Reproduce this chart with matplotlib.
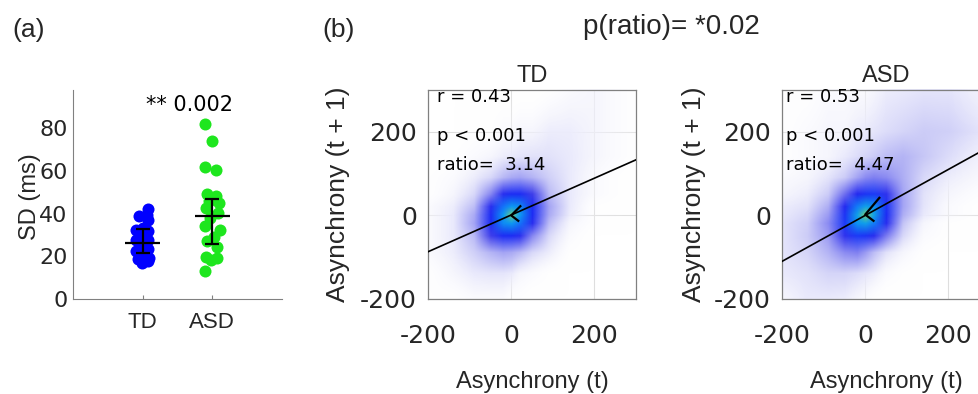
import numpy as np
import matplotlib
matplotlib.use("Agg")
import matplotlib.pyplot as plt
from matplotlib.colors import LinearSegmentedColormap
from matplotlib.image import NonUniformImage

plt.rcParams['axes.unicode_minus'] = False

# ---------------- data ----------------
groups = ['TD', 'ASD']
td_sd = [42.2, 39.5, 39.1, 36.9, 33.3, 32.5, 31.7, 29.6, 27.5, 27.5,
         25.4, 23.4, 22.7, 21.2, 19.1, 18.7, 16.8, 17.6]
td_jitter = [0.08, 0.06, -0.05, 0.08, 0.0, -0.09, 0.08, -0.04, -0.09, 0.07,
             -0.01, 0.08, -0.09, 0.02, 0.09, -0.06, -0.01, 0.08]
asd_sd = [81.9, 74.0, 61.8, 60.7, 49.4, 48.2, 45.8, 45.0, 42.7, 40.3,
          38.0, 34.0, 32.5, 29.3, 27.0, 24.6, 19.9, 19.1, 18.4, 12.9]
asd_jitter = [-0.10, 0.0, -0.10, 0.05, -0.07, 0.05, -0.05, 0.10, -0.09, 0.08,
              -0.03, -0.11, 0.11, 0.02, -0.07, 0.06, -0.09, 0.07, -0.02, -0.10]
group_mean = [26.3, 39.1]
err_low = [21.8, 25.9]
err_high = [32.8, 46.9]
group_p_text = '** 0.002'
ratio_p_text = 'p(ratio)= *0.02'

r_vals = [0.43, 0.53]
ratio_vals = [3.14, 4.47]
p_corr_text = 'p < 0.001'
fit_slope = [0.44, 0.55]
fit_intercept = [1.0, 0.0]

# estimated point density (0..1); rows top (y=300) to bottom
grid_x = [-200, -140, -90, -50, -20, 0, 20, 50, 90, 140, 200, 300]
grid_y = [300, 200, 140, 90, 50, 20, 0, -20, -50, -90, -140, -200]
density_td = [
    [0.00, 0.00, 0.00, 0.00, 0.00, 0.00, 0.00, 0.00, 0.01, 0.02, 0.03, 0.01],
    [0.00, 0.00, 0.01, 0.01, 0.02, 0.02, 0.03, 0.03, 0.04, 0.04, 0.03, 0.01],
    [0.00, 0.01, 0.02, 0.03, 0.04, 0.05, 0.06, 0.07, 0.07, 0.05, 0.03, 0.01],
    [0.01, 0.02, 0.04, 0.09, 0.16, 0.19, 0.20, 0.17, 0.11, 0.05, 0.02, 0.00],
    [0.01, 0.03, 0.09, 0.26, 0.46, 0.52, 0.52, 0.38, 0.16, 0.05, 0.02, 0.00],
    [0.02, 0.04, 0.15, 0.46, 0.70, 0.78, 0.75, 0.52, 0.20, 0.05, 0.01, 0.00],
    [0.02, 0.05, 0.19, 0.52, 0.78, 0.95, 0.78, 0.52, 0.19, 0.04, 0.01, 0.00],
    [0.02, 0.05, 0.20, 0.52, 0.75, 0.78, 0.70, 0.46, 0.15, 0.03, 0.01, 0.00],
    [0.02, 0.05, 0.16, 0.38, 0.52, 0.52, 0.46, 0.26, 0.09, 0.02, 0.00, 0.00],
    [0.02, 0.04, 0.11, 0.17, 0.20, 0.19, 0.16, 0.09, 0.04, 0.01, 0.00, 0.00],
    [0.01, 0.03, 0.05, 0.06, 0.06, 0.05, 0.03, 0.02, 0.01, 0.00, 0.00, 0.00],
    [0.01, 0.01, 0.02, 0.02, 0.02, 0.01, 0.01, 0.00, 0.00, 0.00, 0.00, 0.00],
]
density_asd = [
    [0.01, 0.01, 0.02, 0.02, 0.02, 0.02, 0.03, 0.04, 0.05, 0.06, 0.06, 0.03],
    [0.01, 0.02, 0.03, 0.03, 0.04, 0.05, 0.06, 0.08, 0.10, 0.12, 0.11, 0.05],
    [0.01, 0.02, 0.03, 0.05, 0.08, 0.10, 0.12, 0.15, 0.17, 0.13, 0.08, 0.03],
    [0.02, 0.03, 0.06, 0.12, 0.20, 0.25, 0.27, 0.25, 0.18, 0.09, 0.04, 0.02],
    [0.03, 0.04, 0.12, 0.30, 0.48, 0.54, 0.56, 0.44, 0.20, 0.07, 0.03, 0.01],
    [0.04, 0.07, 0.18, 0.48, 0.72, 0.80, 0.77, 0.54, 0.20, 0.06, 0.02, 0.00],
    [0.05, 0.09, 0.22, 0.54, 0.80, 0.96, 0.80, 0.52, 0.18, 0.05, 0.02, 0.00],
    [0.06, 0.11, 0.25, 0.56, 0.77, 0.80, 0.72, 0.46, 0.14, 0.03, 0.01, 0.00],
    [0.06, 0.12, 0.22, 0.44, 0.56, 0.54, 0.46, 0.28, 0.09, 0.02, 0.01, 0.00],
    [0.06, 0.10, 0.17, 0.25, 0.27, 0.22, 0.15, 0.07, 0.03, 0.01, 0.00, 0.00],
    [0.05, 0.07, 0.10, 0.10, 0.08, 0.06, 0.04, 0.02, 0.01, 0.00, 0.00, 0.00],
    [0.03, 0.05, 0.05, 0.04, 0.03, 0.02, 0.01, 0.00, 0.00, 0.00, 0.00, 0.00],
]
# "<" marks at the centre of each cloud (barb end, tip, barb end)
arrow_td_x = [22, 0, 17]
arrow_td_y = [22, 0, -13]
arrow_asd_x = [34, 0, 20]
arrow_asd_y = [42, 2, -13]

# ---------------- figure ----------------
W, H = 979, 394
fig = plt.figure(figsize=(W / 100, H / 100), dpi=100)

LAB = ['Liberation Sans', 'DejaVu Sans']
NUM = ['DejaVu Sans']
TXT = '#262626'
SPINE = '#808080'


def fx(px):
    return px / W


def fy(py):
    return 1 - py / H


# ---- panel (a) ----
ax_a = fig.add_axes([fx(73), fy(299), fx(209), 209 / H])
ax_a.scatter(np.array(td_jitter) + 1, td_sd, s=75, color='#0000ff', zorder=2, linewidths=0)
ax_a.scatter(np.array(asd_jitter) + 2, asd_sd, s=75, color='#1ee61e', zorder=2, linewidths=0)
xs = np.array([1, 2])
means = np.array(group_mean)
yerr = [means - np.array(err_low), np.array(err_high) - means]
ax_a.errorbar(xs, means, yerr=yerr, fmt='none', ecolor='black', elinewidth=1.6,
              capsize=5, capthick=1.6, zorder=3)
ax_a.hlines(means, xs - 0.25, xs + 0.25, color='black', lw=1.6, zorder=3)
ax_a.set_xlim(0, 3)
ax_a.set_ylim(0, 98)
ax_a.set_xticks([1, 2])
ax_a.set_xticklabels(groups, fontsize=16, family=LAB, color=TXT)
ax_a.set_yticks([0, 20, 40, 60, 80])
ax_a.set_yticklabels(['0', '20', '40', '60', '80'], fontsize=16, family=NUM, color=TXT)
ax_a.tick_params(axis='x', direction='in', length=3, pad=9, color=SPINE)
ax_a.tick_params(axis='y', direction='in', length=0, pad=4, color=SPINE)
for s in ['top', 'right']:
    ax_a.spines[s].set_visible(False)
for s in ['left', 'bottom']:
    ax_a.spines[s].set_color(SPINE)
ax_a.set_ylabel('SD (ms)', fontsize=17, family=LAB, color=TXT)
ax_a.yaxis.set_label_coords(-0.155, 0.49)
ax_a.text(1.67, 91, group_p_text, fontsize=15, family=NUM, color='black',
          ha='center', va='center')

# ---- panel (b) ----
cmap = LinearSegmentedColormap.from_list('dens', [
    (0.00, (1.00, 1.00, 1.00, 0.0)),
    (0.04, (0.93, 0.93, 0.99, 1.0)),
    (0.12, (0.80, 0.80, 0.97, 1.0)),
    (0.25, (0.55, 0.55, 0.95, 1.0)),
    (0.38, (0.25, 0.25, 0.92, 1.0)),
    (0.50, (0.12, 0.15, 0.95, 1.0)),
    (0.65, (0.10, 0.35, 1.00, 1.0)),
    (0.78, (0.05, 0.60, 0.95, 1.0)),
    (0.90, (0.15, 0.78, 0.75, 1.0)),
    (1.00, (0.65, 0.85, 0.30, 1.0)),
])

panels = [
    dict(left=428, name='TD', dens=density_td, ax_=arrow_td_x, ay_=arrow_td_y, tx=0.045, ylx=-0.375),
    dict(left=782, name='ASD', dens=density_asd, ax_=arrow_asd_x, ay_=arrow_asd_y, tx=0.02, ylx=-0.365),
]
gx = np.array(grid_x, dtype=float)
gy = np.array(grid_y, dtype=float)[::-1]
for i, p in enumerate(panels):
    ax = fig.add_axes([fx(p['left']), fy(299), fx(208), 209 / H])
    ax.set_axisbelow(True)
    ax.grid(True, color='#dedede', lw=0.8)
    im = NonUniformImage(ax, interpolation='bilinear', extent=(-200, 300, -200, 300), cmap=cmap)
    im.set_data(gx, gy, np.array(p['dens'])[::-1])
    im.set_clim(0, 1)
    im.set_zorder(1)
    ax.add_image(im)
    xl = np.array([-200, 300])
    ax.plot(xl, fit_slope[i] * xl + fit_intercept[i], color='black', lw=1.2, zorder=3)
    ax.plot(p['ax_'], p['ay_'], color='black', lw=1.6, zorder=4)
    ax.set_xlim(-200, 300)
    ax.set_ylim(-200, 300)
    ax.set_xticks([-200, 0, 200])
    ax.set_yticks([-200, 0, 200])
    ax.set_xticklabels(['-200', '0', '200'], fontsize=18, family=NUM, color=TXT)
    ax.set_yticklabels(['-200', '0', '200'], fontsize=18, family=NUM, color=TXT)
    ax.tick_params(axis='both', direction='in', length=0, color=SPINE)
    ax.tick_params(axis='x', pad=18)
    ax.tick_params(axis='y', pad=8)
    for s in ax.spines.values():
        s.set_color(SPINE)
        s.set_linewidth(0.9)
    ax.set_title(p['name'], fontsize=17, family=LAB, color=TXT, pad=6)
    ax.set_xlabel('Asynchrony (t)', fontsize=17, family=LAB, color=TXT)
    ax.xaxis.set_label_coords(0.5, -0.345)
    ax.set_ylabel('Asynchrony (t + 1)', fontsize=19, family=LAB, color=TXT)
    ax.yaxis.set_label_coords(p['ylx'], 0.5)
    for k, (t, yy) in enumerate([('r = %.2f' % r_vals[i], 0.965),
                                  (p_corr_text, 0.78),
                                  ('ratio=  %.2f' % ratio_vals[i], 0.64)]):
        ax.text(p['tx'], yy, t, transform=ax.transAxes, fontsize=13, family=NUM,
                color='black', ha='left', va='center', zorder=5)

fig.text(fx(12), fy(30), '(a)', fontsize=19, family=LAB, color=TXT, ha='left', va='center')
fig.text(fx(322), fy(30), '(b)', fontsize=19, family=LAB, color=TXT, ha='left', va='center')
fig.text(fx(671), fy(27), ratio_p_text, fontsize=20, family=LAB, color=TXT, ha='center', va='center')

fig.savefig('out.png', dpi=100)
